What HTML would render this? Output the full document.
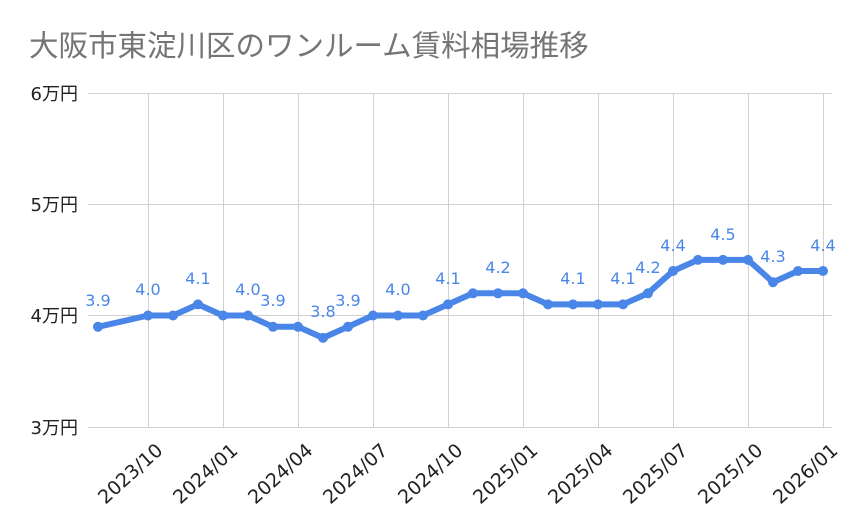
<!DOCTYPE html>
<html><head><meta charset="utf-8"><style>
body{margin:0;background:#fff;}
svg{display:block;font-family:"DejaVu Sans","Noto Sans CJK JP",sans-serif;}
</style></head><body>
<svg width="859" height="531" xmlns="http://www.w3.org/2000/svg">
<text x="29" y="56" font-size="29.5" fill="#757575" font-family="Liberation Sans, Noto Sans CJK JP, sans-serif">大阪市東淀川区のワンルーム賃料相場推移</text>
<g stroke="#d0d0d0" stroke-width="1">
<line x1="88" y1="93.5" x2="832" y2="93.5"/>
<line x1="88" y1="204.5" x2="832" y2="204.5"/>
<line x1="88" y1="315.5" x2="832" y2="315.5"/>
<line x1="88" y1="427.5" x2="832" y2="427.5"/>
<line x1="148.5" y1="93" x2="148.5" y2="427"/>
<line x1="223.5" y1="93" x2="223.5" y2="427"/>
<line x1="298.5" y1="93" x2="298.5" y2="427"/>
<line x1="373.5" y1="93" x2="373.5" y2="427"/>
<line x1="448.5" y1="93" x2="448.5" y2="427"/>
<line x1="523.5" y1="93" x2="523.5" y2="427"/>
<line x1="598.5" y1="93" x2="598.5" y2="427"/>
<line x1="673.5" y1="93" x2="673.5" y2="427"/>
<line x1="748.5" y1="93" x2="748.5" y2="427"/>
<line x1="823.5" y1="93" x2="823.5" y2="427"/>
</g>
<g font-size="18" fill="#222" text-anchor="end">
<text x="78" y="100">6万円</text>
<text x="78" y="211">5万円</text>
<text x="78" y="322">4万円</text>
<text x="78" y="434">3万円</text>
</g>
<g font-size="19" fill="#222" text-anchor="end">
<text transform="translate(164,452) rotate(-42)">2023/10</text>
<text transform="translate(239,452) rotate(-42)">2024/01</text>
<text transform="translate(314,452) rotate(-42)">2024/04</text>
<text transform="translate(389,452) rotate(-42)">2024/07</text>
<text transform="translate(464,452) rotate(-42)">2024/10</text>
<text transform="translate(539,452) rotate(-42)">2025/01</text>
<text transform="translate(614,452) rotate(-42)">2025/04</text>
<text transform="translate(689,452) rotate(-42)">2025/07</text>
<text transform="translate(764,452) rotate(-42)">2025/10</text>
<text transform="translate(839,452) rotate(-42)">2026/01</text>
</g>
<polyline fill="none" stroke="#4a86e8" stroke-width="6" stroke-linejoin="round" stroke-linecap="round"
points="98,326.8 148,315.5 173,315.5 198,304.4 223,315.5 248,315.5 273,326.8 298,326.8 323,337.9 348,326.8 373,315.5 398,315.5 423,315.5 448,304.4 473,293.3 498,293.3 523,293.3 548,304.4 573,304.4 598,304.4 623,304.4 648,293.3 673,271 698,259.9 723,259.9 748,259.9 773,282.2 798,271 823,271"/>
<g fill="#4a86e8">
<circle cx="98" cy="326.8" r="5"/><circle cx="148" cy="315.5" r="5"/><circle cx="173" cy="315.5" r="5"/><circle cx="198" cy="304.4" r="5"/><circle cx="223" cy="315.5" r="5"/><circle cx="248" cy="315.5" r="5"/><circle cx="273" cy="326.8" r="5"/><circle cx="298" cy="326.8" r="5"/><circle cx="323" cy="337.9" r="5"/><circle cx="348" cy="326.8" r="5"/><circle cx="373" cy="315.5" r="5"/><circle cx="398" cy="315.5" r="5"/><circle cx="423" cy="315.5" r="5"/><circle cx="448" cy="304.4" r="5"/><circle cx="473" cy="293.3" r="5"/><circle cx="498" cy="293.3" r="5"/><circle cx="523" cy="293.3" r="5"/><circle cx="548" cy="304.4" r="5"/><circle cx="573" cy="304.4" r="5"/><circle cx="598" cy="304.4" r="5"/><circle cx="623" cy="304.4" r="5"/><circle cx="648" cy="293.3" r="5"/><circle cx="673" cy="271" r="5"/><circle cx="698" cy="259.9" r="5"/><circle cx="723" cy="259.9" r="5"/><circle cx="748" cy="259.9" r="5"/><circle cx="773" cy="282.2" r="5"/><circle cx="798" cy="271" r="5"/><circle cx="823" cy="271" r="5"/>
</g>
<g font-size="16" fill="#4a86e8" text-anchor="middle">
<text x="98" y="306">3.9</text>
<text x="148" y="295">4.0</text>
<text x="198" y="284">4.1</text>
<text x="248" y="295">4.0</text>
<text x="273" y="306">3.9</text>
<text x="323" y="317">3.8</text>
<text x="348" y="306">3.9</text>
<text x="398" y="295">4.0</text>
<text x="448" y="284">4.1</text>
<text x="498" y="273">4.2</text>
<text x="573" y="284">4.1</text>
<text x="623" y="284">4.1</text>
<text x="648" y="273">4.2</text>
<text x="673" y="251">4.4</text>
<text x="723" y="240">4.5</text>
<text x="773" y="262">4.3</text>
<text x="823" y="251">4.4</text>
</g>
</svg>
</body></html>
